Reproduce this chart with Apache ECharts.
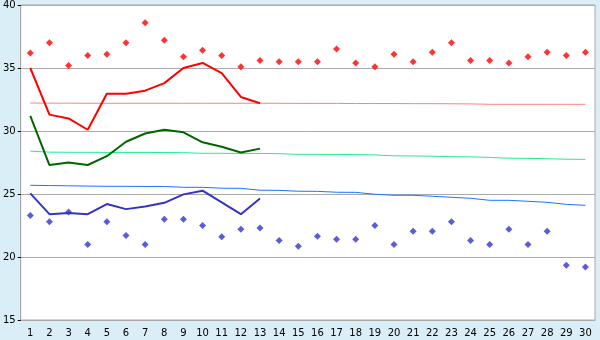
<!DOCTYPE html>
<html>
<head>
<meta charset="utf-8">
<script src="https://cdn.jsdelivr.net/npm/echarts@6/dist/echarts.min.js"></script>
<style>html,body{margin:0;padding:0;background:#d9eef6;}#c{width:600px;height:340px;}</style>
</head>
<body>
<div id="c"></div>
<script>
const days = ['1','2','3','4','5','6','7','8','9','10','11','12','13','14','15','16','17','18','19','20','21','22','23','24','25','26','27','28','29','30'];
const maxDaily = [36.2,37.0,35.2,36.0,36.1,37.0,38.6,37.2,35.9,36.4,36.0,35.1,35.6,35.5,35.5,35.5,36.5,35.4,35.1,36.1,35.5,36.25,37.0,35.6,35.6,35.4,35.9,36.25,36.0,36.25];
const maxAvg = [35.0,31.3,31.0,30.1,32.95,32.95,33.2,33.8,35.0,35.4,34.6,32.7,32.2];
const maxNormal = [32.22,32.21,32.21,32.2,32.2,32.2,32.2,32.2,32.2,32.2,32.2,32.2,32.2,32.2,32.19,32.19,32.19,32.18,32.18,32.18,32.17,32.17,32.16,32.15,32.12,32.12,32.12,32.12,32.12,32.12];
const meanAvg = [31.2,27.3,27.5,27.3,28.0,29.15,29.8,30.1,29.9,29.1,28.75,28.3,28.6];
const meanNormal = [28.4,28.32,28.31,28.31,28.3,28.3,28.3,28.29,28.28,28.23,28.23,28.22,28.22,28.2,28.15,28.15,28.14,28.13,28.1,28.03,28.02,28.0,27.96,27.95,27.9,27.84,27.83,27.8,27.76,27.75];
const minAvg = [25.05,23.4,23.5,23.4,24.2,23.8,24.0,24.3,24.97,25.26,24.34,23.4,24.65];
const minNormal = [25.69,25.67,25.65,25.63,25.61,25.61,25.6,25.6,25.53,25.53,25.46,25.45,25.3,25.29,25.22,25.21,25.14,25.13,24.98,24.9,24.9,24.82,24.74,24.66,24.5,24.5,24.42,24.34,24.18,24.1];
const minDaily = [23.3,22.8,23.57,21.0,22.8,21.7,21.0,23.0,23.0,22.5,21.6,22.2,22.3,21.3,20.85,21.65,21.4,21.4,22.5,21.0,22.05,22.05,22.8,21.3,21.0,22.2,21.0,22.05,19.35,19.2];
const yTicks = {min: 15, max: 40, interval: 5};

const chart = echarts.init(document.getElementById('c'), null, {renderer: 'canvas'});
const lineS = (data, color, w, z) => ({type: 'line', data, showSymbol: false, symbol: 'none', lineStyle: {color, width: w}, itemStyle: {color}, z, silent: true});
const dotS = (data, color) => ({type: 'scatter', data, symbol: 'diamond', symbolSize: 7, itemStyle: {color}, z: 10, silent: true});
chart.setOption({
  animation: false,
  backgroundColor: '#d9eef6',
  textStyle: {fontFamily: 'DejaVu Sans'},
  grid: {left: 20, right: 5, top: 5, bottom: 20, show: true, backgroundColor: '#ffffff', borderColor: '#aaaaaa', borderWidth: 1},
  xAxis: {
    type: 'category', data: days, boundaryGap: true,
    axisLine: {lineStyle: {color: '#aaaaaa', width: 1}},
    axisTick: {alignWithLabel: true, interval: 0, length: 5, lineStyle: {color: '#000'}},
    axisLabel: {interval: 0, color: '#000', fontSize: 10, margin: 8, fontFamily: 'DejaVu Sans'},
    splitLine: {show: false}
  },
  yAxis: {
    type: 'value', min: yTicks.min, max: yTicks.max, interval: yTicks.interval,
    axisLine: {show: true, lineStyle: {color: '#aaaaaa', width: 1}},
    axisTick: {show: true, length: 3, lineStyle: {color: '#000'}},
    axisLabel: {color: '#000', fontSize: 10, margin: 5, fontFamily: 'DejaVu Sans'},
    splitLine: {lineStyle: {color: '#aaaaaa', width: 1}}
  },
  series: [
    lineS(maxNormal, '#ff8080', 1, 2),
    lineS(meanNormal, '#22ee88', 1, 2),
    lineS(minNormal, '#1a75ff', 1, 2),
    lineS(maxAvg, '#ff0000', 2, 3),
    lineS(meanAvg, '#006600', 2, 3),
    lineS(minAvg, '#3333cc', 2, 3),
    dotS(maxDaily, '#ff0000'),
    dotS(minDaily, '#3333cc')
  ]
});
</script>
</body>
</html>
